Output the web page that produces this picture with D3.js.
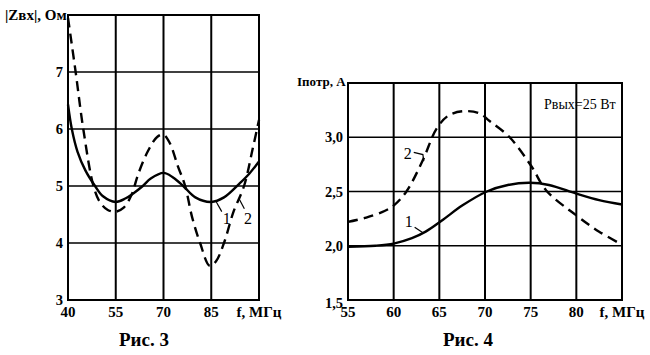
<!DOCTYPE html>
<html><head><meta charset="utf-8">
<script src="https://cdn.jsdelivr.net/npm/d3@7"></script>
<style>body{margin:0;background:#fff}svg{display:block}
text{font-family:"Liberation Serif","DejaVu Serif","Times New Roman",serif}</style>
</head><body><svg id="c" width="650" height="355"></svg>
<script>
// ---- Рис. 3 data ----
const fig3XTicks = [40, 55, 70, 85];
const fig3YTicks = [3, 4, 5, 6, 7];
const fig3Curve1 = [[40,6.43],[41.2,6.0],[43,5.6],[45.5,5.27],[48.5,5.0],[51,4.82],[55,4.72],[58,4.78],[60.5,4.87],[63.5,5.0],[66,5.13],[70,5.23],[73,5.15],[76.2,5.0],[80,4.8],[85,4.72],[89,4.8],[94,5.05],[97,5.22],[100,5.43]];
const fig3Curve2 = [[40,7.95],[42.4,7.0],[44.8,6.0],[48,5.0],[50,4.72],[52.5,4.58],[55,4.55],[57.5,4.62],[60,4.85],[62,5.2],[65,5.6],[68,5.86],[70,5.9],[72,5.75],[74.5,5.35],[76.8,5.0],[79,4.45],[81.5,4.0],[84.5,3.6],[86.5,3.68],[89,4.0],[92,4.55],[95.3,5.0],[98,5.65],[100,6.16]];
// ---- Рис. 4 data ----
const fig4XTicks = [55, 60, 65, 70, 75, 80];
const fig4YTicks = [1.5, 2.0, 2.5, 3.0];
const fig4Curve1 = [[55,1.99],[58,2.0],[60,2.02],[62,2.07],[63.5,2.13],[65.4,2.24],[67.5,2.37],[70.2,2.5],[72.5,2.56],[74.9,2.58],[77,2.56],[80,2.48],[82.5,2.42],[85,2.38]];
const fig4Curve2 = [[55,2.22],[57,2.26],[59,2.32],[60,2.37],[61.4,2.5],[63.2,2.79],[64.7,3.08],[66,3.2],[67.6,3.24],[69.4,3.22],[70.5,3.15],[72.7,3.0],[75.1,2.73],[76.7,2.51],[80,2.28],[82.5,2.13],[85,2.01]];

const svg = d3.select("#c");

function panel(o) {
  const x = d3.scaleLinear().domain(o.xDom).range([o.x0, o.x1]);
  const y = d3.scaleLinear().domain(o.yDom).range([o.y0, o.y1]);
  const g = svg.append("g");
  g.selectAll(".hg").data(o.yTicks.slice(1)).join("line")
    .attr("x1", o.x0).attr("x2", o.x1).attr("y1", d => y(d)).attr("y2", d => y(d))
    .attr("stroke", "#000").attr("stroke-width", 1.4);
  g.selectAll(".vg").data(o.xTicks.slice(1)).join("line")
    .attr("y1", o.y0).attr("y2", o.y1).attr("x1", d => x(d)).attr("x2", d => x(d))
    .attr("stroke", "#000").attr("stroke-width", 2);
  g.append("rect").attr("x", o.x0).attr("y", o.y1).attr("width", o.x1 - o.x0).attr("height", o.y0 - o.y1)
    .attr("fill", "none").attr("stroke", "#000").attr("stroke-width", 2);
  const line = d3.line().x(d => x(d[0])).y(d => y(d[1])).curve(d3.curveCatmullRom.alpha(0.5));
  g.append("path").datum(o.c1).attr("d", line).attr("fill", "none").attr("stroke", "#000").attr("stroke-width", 2.4);
  g.append("path").datum(o.c2).attr("d", line).attr("fill", "none").attr("stroke", "#000").attr("stroke-width", 2.4)
    .attr("stroke-dasharray", "10,6");
  g.selectAll(".xl").data(o.xTicks).join("text")
    .attr("x", d => x(d)).attr("y", o.y0 + 17).attr("text-anchor", "middle")
    .attr("font-weight", "bold").attr("font-size", 15).text(d => d);
  g.selectAll(".yl").data(o.yTicks).join("text")
    .attr("x", o.x0 - 5).attr("y", (d, i) => y(d) + 5 + (i === 0 ? o.y0Shift : 0)).attr("text-anchor", "end")
    .attr("font-weight", "bold").attr("font-size", 14.5).text(o.yFmt);
  g.append("text").attr("x", o.x1).attr("y", o.y0 + 17).attr("text-anchor", "middle")
    .attr("font-weight", "bold").attr("font-size", 15).text("f, МГц");
  g.append("text").attr("x", o.capX).attr("y", 346).attr("text-anchor", "middle")
    .attr("font-weight", "bold").attr("font-size", 19).text(o.caption);
  return {x, y, g};
}

const p3 = panel({xDom:[40,100], yDom:[3,8], x0:68, x1:259, y0:300, y1:15,
  xTicks: fig3XTicks, yTicks: fig3YTicks, c1: fig3Curve1, c2: fig3Curve2,
  yFmt: d => d, y0Shift: 0, capX: 144, caption: "Рис. 3"});
p3.g.append("text").attr("x", 5).attr("y", 20).attr("font-weight", "bold")
  .attr("font-size", 15).text("|Zвх|, Ом");
function leader(p, pts){ p.g.append("path").attr("d", d3.line()(pts.map(q => [p.x(q[0]), p.y(q[1])])))
  .attr("fill","none").attr("stroke","#000").attr("stroke-width",1.2); }
function lab(p, fx, fy, t, size){ p.g.append("text").attr("x", p.x(fx)).attr("y", p.y(fy))
  .attr("font-size", size).text(t); }
leader(p3, [[86.6,4.72],[88.3,4.55]]);
lab(p3, 88.6, 4.33, "1", 16);
leader(p3, [[93.7,4.78],[95.4,4.6]]);
lab(p3, 95.3, 4.33, "2", 16);

const p4 = panel({xDom:[55,85], yDom:[1.5,3.5], x0:348, x1:622, y0:300, y1:83,
  xTicks: fig4XTicks, yTicks: fig4YTicks, c1: fig4Curve1, c2: fig4Curve2,
  yFmt: d => d.toFixed(1).replace(".", ","), y0Shift: 3, capX: 468, caption: "Рис. 4"});
p4.g.append("text").attr("x", 297).attr("y", 86).attr("font-weight", "bold")
  .attr("font-size", 13).text("Iпотр, А");
p4.g.append("text").attr("x", 544).attr("y", 109).attr("font-size", 14).text("Рвых=25 Вт");
leader(p4, [[62.2,2.86],[63.2,2.84],[63.3,2.78]]);
lab(p4, 61.1, 2.8, "2", 16);
leader(p4, [[62.3,2.17],[63.2,2.12]]);
lab(p4, 61.2, 2.17, "1", 16);
</script></body></html>
